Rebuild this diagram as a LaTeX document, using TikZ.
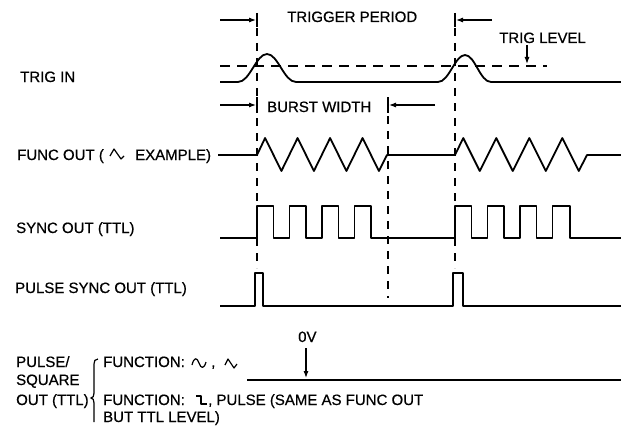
\documentclass[tikz,border=0pt]{standalone}
\usepackage{fontspec}
\setmainfont{Liberation Sans}
\newfontfamily\lblfont{Liberation Sans}[FakeBold=0.6]
\usetikzlibrary{arrows.meta}
\begin{document}
\begin{tikzpicture}[x=1pt,y=-1pt,
  lbl/.style={anchor=base west, inner sep=0pt, font=\lblfont\fontsize{15}{18}\selectfont},
  wave/.style={line width=1.8pt, line join=round},
  guide/.style={line width=1.3pt, dash pattern=on 8pt off 7pt},
  level/.style={line width=1.2pt, dash pattern=on 10pt off 7pt},
  tick/.style={line width=1.5pt},
  dim/.style={line width=1.1pt, -{Latex[length=7pt,width=5pt]}},
  glyph/.style={line width=1.2pt, line join=round}]
\useasboundingbox (0,0) rectangle (621,428);

% vertical guides
\draw[guide] (257,28) -- (257,268);
\draw[guide] (455,28) -- (455,268);
\draw[guide] (388,116) -- (388,298);
\draw[tick] (257,13) -- (257,27);
\draw[tick] (257,97) -- (257,113);
\draw[tick] (455,13) -- (455,27);
\draw[tick] (388,97) -- (388,113);

% dimension arrows
\coordinate (tpA) at (220,20); \coordinate (tpB) at (256,20);
\coordinate (tpC) at (492,20); \coordinate (tpD) at (456,20);
\coordinate (bwA) at (220,105); \coordinate (bwB) at (256,105);
\coordinate (bwC) at (435,105); \coordinate (bwD) at (389,105);
\coordinate (tlA) at (527,45); \coordinate (tlB) at (527,64);
\coordinate (ovA) at (306,348); \coordinate (ovB) at (306,378);
\draw[dim] (tpA) -- (tpB);
\draw[dim] (tpC) -- (tpD);
\draw[dim] (bwA) -- (bwB);
\draw[dim] (bwC) -- (bwD);
\draw[dim] (tlA) -- (tlB);
\draw[dim] (ovA) -- (ovB);

% trigger level
\draw[level] (220,66) -- (547,66);

% TRIG IN
\draw[wave] (220,82) -- (238,82) .. controls (250,82) and (256,54) .. (267,54)
  .. controls (278,54) and (284,82) .. (296,82) -- (438,82)
  .. controls (449,82) and (455,55) .. (465,55)
  .. controls (475,55) and (480,82) .. (491,82) -- (621,82);

% FUNC OUT
\draw[wave] (218,155) -- (257,155) -- (265.1,138) -- (281.4,171) -- (297.6,138)
  -- (313.9,171) -- (330.1,138) -- (346.4,171) -- (362.6,138) -- (378.9,171)
  -- (387,155) -- (455,155) -- (463.25,138) -- (479.75,171) -- (496.25,138)
  -- (512.75,171) -- (529.25,138) -- (545.75,171) -- (562.25,138) -- (578.75,171)
  -- (587,155) -- (621,155);

% SYNC OUT
\draw[wave] (220,238) -- (257,238) -- (257,206) -- (273.5,206) -- (273.5,238)
  -- (289.5,238) -- (289.5,206) -- (306,206) -- (306,238)
  -- (322,238) -- (322,206) -- (338.5,206) -- (338.5,238)
  -- (354.5,238) -- (354.5,206) -- (371,206) -- (371,238)
  -- (455,238) -- (455,206) -- (471.5,206) -- (471.5,238)
  -- (487.5,238) -- (487.5,206) -- (504,206) -- (504,238)
  -- (520,238) -- (520,206) -- (536.5,206) -- (536.5,238)
  -- (552.5,238) -- (552.5,206) -- (570,206) -- (570,238) -- (621,238);

% PULSE SYNC OUT
\draw[wave] (220,306) -- (255,306) -- (255,273) -- (263,273) -- (263,306)
  -- (453,306) -- (453,273) -- (463,273) -- (463,306) -- (621,306);

% 0V line
\draw[wave] (247,380) -- (621,380);

% brace
\draw[line width=1.2pt] (98,359) .. controls (95,359) and (94,361) .. (94,364) -- (94,393)
  .. controls (94,396) and (93,398) .. (91,398) .. controls (93,398) and (94,400) .. (94,403) -- (94,422);

% labels
\node[lbl] (tp) at (287,22) {TRIGGER PERIOD};
\node[lbl] (tl) at (499,43) {TRIG LEVEL};
\node[lbl] (trig) at (20,82) {TRIG IN};
\node[lbl] (bw) at (267,112) {BURST WIDTH};
\node[lbl] (fo1) at (17,160) {FUNC OUT (};
\node[lbl] (fo2) at (135,160) {EXAMPLE)};
\node[lbl] (so) at (16,233) {SYNC OUT (TTL)};
\node[lbl] (pso) at (15,293) {PULSE SYNC OUT (TTL)};
\node[lbl] (ov) at (298,342) {0V};
\node[lbl] (ps1) at (16,367) {PULSE/};
\node[lbl] (ps2) at (16,385) {SQUARE};
\node[lbl] (ps3) at (16,405) {OUT (TTL)};
\node[lbl] (fn1) at (103,367) {FUNCTION:};
\node[lbl] (cm1) at (211,367) {,};
\node[lbl] (fn2) at (103,405) {FUNCTION:};
\node[lbl] (fn2b) at (208,405) {, PULSE (SAME AS FUNC OUT};
\node[lbl] (fn3) at (103,422) {BUT TTL LEVEL)};

% glyphs
\draw[glyph] (110,156) -- (114,149) -- (121,159) -- (124,156);
\draw[glyph] (192,365) .. controls (194,357) and (197,357) .. (199,363)
  .. controls (201,369) and (204,369) .. (206,362);
\draw[glyph] (225,365) -- (228,359) -- (234,368) -- (237,364);
\draw[glyph] (196,396) -- (201,396) -- (201,404) -- (207,404);
\end{tikzpicture}
\end{document}
